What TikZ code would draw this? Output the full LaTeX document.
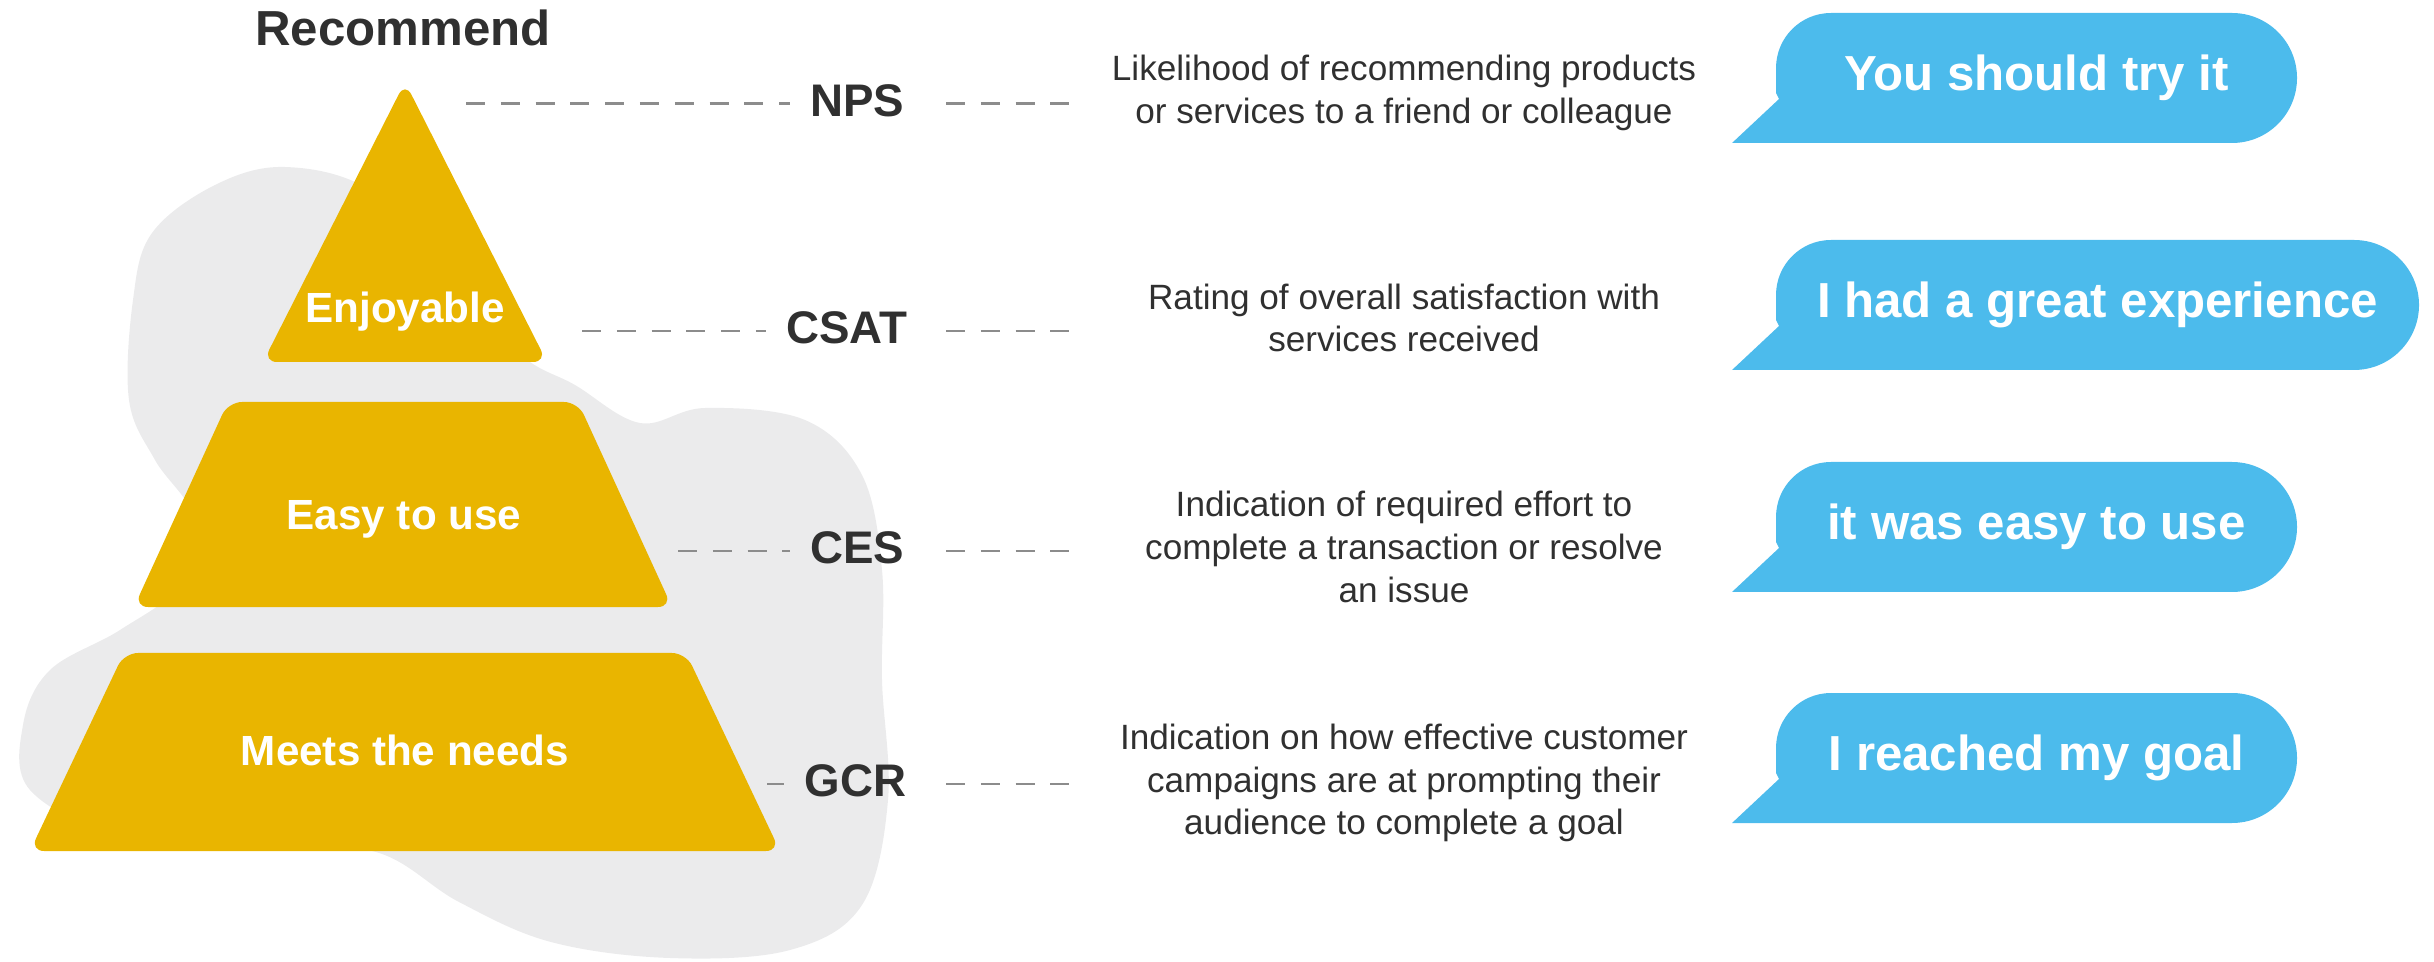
\documentclass[tikz,border=0pt]{standalone}
\usepackage{fontspec}
\setmainfont{Liberation Sans}
\usepackage{xcolor}
\usetikzlibrary{calc, positioning}
\definecolor{gold}{HTML}{E9B500}
\definecolor{sky}{HTML}{4CBBEC}
\definecolor{blob}{HTML}{EBEBEC}
\definecolor{ink}{HTML}{303030}
\definecolor{dashgrey}{HTML}{8C8C8C}
% #1 top, #2 centre of the round end, #3 name, #4 text
\newcommand{\chatbubble}[4]{%
    \fill[sky] (17.32,#1-1.30) -- (#2,#1-1.30) arc[start angle=-90, end angle=90, radius=0.65]
        -- (18.31,#1) arc[start angle=90, end angle=180, radius=0.55]
        -- (17.76,#1-0.80) -- (17.79,#1-0.86) -- (17.32,#1-1.30) -- cycle;
    \node[bubbletext] (#3) at ({(17.76+#2+0.65)/2},#1-0.65) {#4};
}

\begin{document}
\begin{tikzpicture}[
        level/.style={fill=gold, rounded corners=4pt},
        leveltext/.style={text=white, font=\fontsize{12pt}{14pt}\selectfont\bfseries, text height=0.72em, text depth=0pt, inner sep=0pt},
        metric/.style={anchor=east, text=ink, font=\fontsize{13pt}{15pt}\selectfont\bfseries, text height=0.72em, text depth=0pt, inner xsep=0.2cm, inner ysep=0pt},
        desc/.style={text=ink, align=center, font=\fontsize{10pt}{12.2pt}\selectfont},
        link/.style={draw=dashgrey, line width=0.85pt, dash pattern=on 5.4pt off 4.5pt},
        bubbletext/.style={text=white, font=\fontsize{14pt}{17pt}\selectfont\bfseries, text height=0.72em, text depth=0pt, inner sep=0pt}
    ]
    \useasboundingbox (0,0) rectangle (24.34,-9.62);

    % grey backdrop
    \fill[blob] plot[smooth cycle, tension=0.6] coordinates {
        (2.85,-1.67) (2.15,-1.85) (1.52,-2.33) (1.33,-3.00) (1.29,-4.00) (1.55,-4.60)
        (1.95,-5.20) (1.80,-5.85) (1.20,-6.30) (0.50,-6.70) (0.23,-7.25) (0.30,-7.90)
        (1.20,-8.35) (2.60,-8.45) (3.76,-8.52) (4.59,-9.02) (5.51,-9.42) (6.70,-9.58)
        (7.90,-9.50) (8.62,-9.05) (8.88,-8.00) (8.82,-6.80) (8.82,-5.70) (8.62,-4.75)
        (8.05,-4.20) (7.05,-4.08) (6.40,-4.23) (5.75,-3.85) (5.19,-3.53) (4.50,-2.70) (3.70,-1.90)};

    % pyramid
    \fill[level] (4.05,-0.82) -- (5.47,-3.62) -- (2.63,-3.62) -- cycle;
    \fill[level] (2.28,-4.02) -- (5.78,-4.02) -- (6.72,-6.07) -- (1.34,-6.07) -- cycle;
    \fill[level] (1.24,-6.53) -- (6.86,-6.53) -- (7.80,-8.51) -- (0.30,-8.51) -- cycle;

    \node[text=ink, font=\fontsize{14pt}{17pt}\selectfont\bfseries, text height=0.72em, text depth=0pt, inner sep=0pt] (rec) at (4.03,-0.33) {Recommend};
    \node[leveltext] (enj) at (4.05,-3.10) {Enjoyable};
    \node[leveltext] (easy) at (4.04,-5.17) {Easy to use};
    \node[leveltext] (meets) at (4.05,-7.53) {Meets the needs};

    % metrics
    \node[metric] (nps) at (9.25,-1.04) {NPS};
    \node[metric] (csat) at (9.28,-3.31) {CSAT};
    \node[metric] (ces) at (9.25,-5.51) {CES};
    \node[metric] (gcr) at (9.27,-7.84) {GCR};

    \coordinate (npsA) at (4.66,-1.04);
    \coordinate (csatA) at (5.82,-3.31);
    \coordinate (cesA) at (6.78,-5.51);
    \coordinate (gcrA) at (7.67,-7.84);
    \coordinate (npsB) at (10.78,-1.04);
    \coordinate (csatB) at (10.78,-3.31);
    \coordinate (cesB) at (10.78,-5.51);
    \coordinate (gcrB) at (10.78,-7.84);

    \draw[link] (npsA) -- (nps);
    \draw[link] (csatA) -- (csat);
    \draw[link] (cesA) -- (ces);
    \draw[link] (gcrA) -- (gcr);
    \draw[link, shorten <=0.21cm] (nps) -- (npsB);
    \draw[link, shorten <=0.18cm] (csat) -- (csatB);
    \draw[link, shorten <=0.21cm] (ces) -- (cesB);
    \draw[link, shorten <=0.19cm] (gcr) -- (gcrB);

    % descriptions
    \node[desc] (dnps) at (14.04,-0.93) {Likelihood of recommending products\\or services to a friend or colleague};
    \node[desc] (dcsat) at (14.04,-3.18) {Rating of overall satisfaction with\\services received};
    \node[desc] (dces) at (14.04,-5.47) {Indication of required effort to\\complete a transaction or resolve\\an issue};
    \node[desc] (dgcr) at (14.04,-7.83) {Indication on how effective customer\\campaigns are at prompting their\\audience to complete a goal};

    % speech bubbles
    \chatbubble{-0.13}{22.32}{bnps}{You should try it}
    \chatbubble{-2.40}{23.54}{bcsat}{I had a great experience}
    \chatbubble{-4.62}{22.32}{bces}{it was easy to use}
    \chatbubble{-6.93}{22.32}{bgcr}{I reached my goal}
\end{tikzpicture}
\end{document}
